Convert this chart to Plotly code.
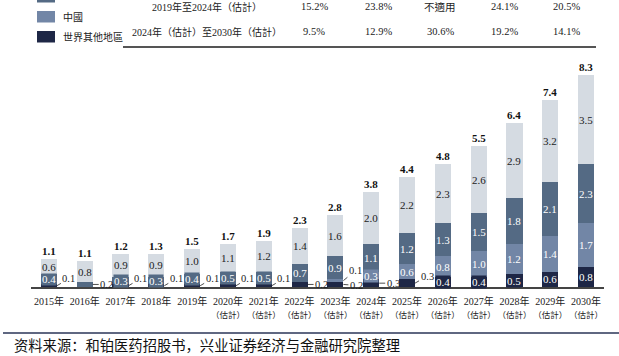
import plotly.graph_objects as go

# ---------------- data ----------------
years = ["2015年", "2016年", "2017年", "2018年", "2019年", "2020年", "2021年", "2022年",
         "2023年", "2024年", "2025年", "2026年", "2027年", "2028年", "2029年", "2030年"]
est_flag = [False]*5 + [True]*11
rest_of_world = [0.1, 0.0, 0.1, 0.1, 0.1, 0.1, 0.1, 0.2, 0.2, 0.3, 0.3, 0.4, 0.4, 0.5, 0.6, 0.8]
china = [0.0, 0.0, 0.0, 0.0, 0.0, 0.0, 0.0, 0.0, 0.1, 0.3, 0.6, 0.8, 1.0, 1.2, 1.4, 1.7]
europe = [0.4, 0.2, 0.3, 0.3, 0.4, 0.5, 0.5, 0.7, 0.9, 1.1, 1.2, 1.3, 1.5, 1.8, 2.1, 2.3]
usa = [0.6, 0.8, 0.9, 0.9, 1.0, 1.1, 1.2, 1.4, 1.6, 2.0, 2.2, 2.3, 2.6, 2.9, 3.2, 3.5]
totals = [1.1, 1.1, 1.2, 1.3, 1.5, 1.7, 1.9, 2.3, 2.8, 3.8, 4.4, 4.8, 5.5, 6.4, 7.4, 8.3]

table_rows = ["2019年至2024年（估計）", "2024年（估計）至2030年（估計）"]
table_vals = [["15.2%", "23.8%", "不適用", "24.1%", "20.5%"],
              ["9.5%", "12.9%", "30.6%", "19.2%", "14.1%"]]
legend_names = ["中國", "世界其他地區"]
source_text = "资料来源：和铂医药招股书，兴业证券经济与金融研究院整理"

# ---------------- style ----------------
W, H = 619, 356
ML, MR, MT, MB = 31, 15, 57, 69
PW, PH = W - ML - MR, H - MT - MB
C_NAVY, C_CHINA, C_EU, C_US = "#1e2746", "#7286a6", "#546a84", "#d5dbe2"
SERIF = "Liberation Serif, Times New Roman, Noto Sans CJK TC, serif"
CJK = "Noto Sans CJK SC, sans-serif"

def px(x):
    return (x - ML) / PW

def py(y):
    return (H - MB - y) / PH

ticktext = [y + ("<br><span style='font-size:8.5px'>（估計）</span>" if e else "")
            for y, e in zip(years, est_flag)]

series = [("世界其他地區", rest_of_world, C_NAVY, "white"),
          ("中國", china, C_CHINA, "white"),
          ("歐洲", europe, C_EU, "white"),
          ("美國", usa, C_US, "#222")]

fig = go.Figure()
for name, vals, col, _ in series:
    fig.add_trace(go.Bar(x=years, y=vals, name=name, marker_color=col,
                         marker_line_width=0, showlegend=False))

annotations = []
# which segments get a callout label (series index, year index) -> (ax, ay)
callouts = {(0, 0): (12, -7), (2, 1): (14, 0), (0, 2): (12, -7), (0, 3): (12, -7),
            (0, 4): (12, -7), (0, 5): (12, -7), (0, 6): (12, -7), (0, 7): (14, 0),
            (0, 8): (13, 1), (1, 8): (12, -10), (0, 9): (14, 0), (0, 10): (12, -7)}
base = [0.0]*len(years)
for si, (name, vals, col, tcol) in enumerate(series):
    for i, v in enumerate(vals):
        mid = base[i] + v / 2
        if (si, i) in callouts:
            ax, ay = callouts[(si, i)]
            annotations.append(dict(x=years[i], y=mid, xref="x", yref="y", text=f"{v:.1f}",
                                    showarrow=True, arrowhead=0, arrowwidth=0.8, arrowcolor="#222",
                                    ax=ax, ay=ay, xshift=8, standoff=0, startstandoff=0,
                                    font=dict(family=SERIF, size=10.5, color="#222")))
        elif v > 0 and not (si == 1 and i < 9) and not (si == 0 and i < 11):
            annotations.append(dict(x=years[i], y=mid, xref="x", yref="y", text=f"{v:.1f}",
                                    showarrow=False, bgcolor=col, borderpad=0,
                                    font=dict(family=SERIF, size=11, color=tcol)))
        base[i] += v

for i, t in enumerate(totals):
    annotations.append(dict(x=years[i], y=base[i], xref="x", yref="y", text=f"<b>{t:.1f}</b>",
                            showarrow=False, yshift=8,
                            font=dict(family=SERIF, size=11, color="#111")))

# table
val_x = [314, 378, 440, 504, 566]
for r, (lab, vals) in enumerate(zip(table_rows, table_vals)):
    yy = 7 + 25 * r
    annotations.append(dict(x=px(207), y=py(yy), xref="paper", yref="paper", text=lab,
                            xanchor="center", yanchor="middle", showarrow=False,
                            font=dict(family=SERIF, size=10, color="#222")))
    for vx, v in zip(val_x, vals):
        annotations.append(dict(x=px(vx), y=py(yy), xref="paper", yref="paper", text=v,
                                xanchor="center", yanchor="middle", showarrow=False,
                                font=dict(family=SERIF, size=10.5, color="#222")))

# legend (partially cut at top)
shapes = []
leg_cols = [C_EU, C_CHINA, C_NAVY]
leg_y = [-9, 11, 31]
for c, y0 in zip(leg_cols, leg_y):
    shapes.append(dict(type="rect", xref="paper", yref="paper", x0=px(37), x1=px(55),
                       y0=py(y0), y1=py(y0 + 11.5), fillcolor=c, line_width=0))
for name, y0 in zip(legend_names, leg_y[1:]):
    annotations.append(dict(x=px(61), y=py(y0 + 6), xref="paper", yref="paper", text=name,
                            xanchor="left", yanchor="middle", showarrow=False,
                            font=dict(family=SERIF, size=10, color="#222")))

shapes.append(dict(type="line", xref="paper", yref="paper", x0=px(123), x1=px(596),
                   y0=py(47), y1=py(47), line=dict(color="#555", width=2)))
shapes.append(dict(type="line", xref="paper", yref="paper", x0=px(3), x1=px(619),
                   y0=py(333), y1=py(333), line=dict(color="#2a3457", width=1.5)))
annotations.append(dict(x=px(12), y=py(344), xref="paper", yref="paper", text=source_text,
                        xanchor="left", yanchor="middle", showarrow=False,
                        font=dict(family=CJK, size=14.3, color="#111")))

fig.update_layout(
    width=W, height=H, barmode="stack", bargap=0.55,
    margin=dict(l=ML, r=MR, t=MT, b=MB, autoexpand=False),
    plot_bgcolor="white", paper_bgcolor="white",
    annotations=annotations, shapes=shapes, showlegend=False,
    xaxis=dict(tickmode="array", tickvals=years, ticktext=ticktext, showline=True,
               linecolor="#444", linewidth=1.5, ticks="", showgrid=False, tickangle=0,
               tickfont=dict(family=SERIF, size=10, color="#222"), ticklabelstandoff=4),
    yaxis=dict(range=[0, 9.0], visible=False, showgrid=False),
)
fig.write_html("out.html", config={"displayModeBar": False},
               post_script="document.body.style.margin='0';document.body.style.overflow='hidden';")
